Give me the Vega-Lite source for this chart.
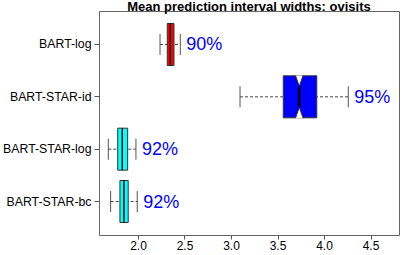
{
  "$schema": "https://vega.github.io/schema/vega-lite/v6.json",
  "autosize": {"type": "none"},
  "width": 300,
  "height": 224,
  "padding": {"left": 99, "top": 11, "right": 8, "bottom": 20},
  "background": "white",
  "title": {
    "text": "Mean prediction interval widths: ovisits",
    "font": "Liberation Sans",
    "fontSize": 13,
    "fontWeight": "bold",
    "color": "black",
    "anchor": "middle",
    "offset": 0,
    "dy": 3
  },
  "config": {
    "view": {"stroke": "#666", "strokeWidth": 1},
    "font": "Liberation Sans"
  },
  "data": {
    "values": [
      {"name": "BART-log", "wlo": 2.237, "q1": 2.315, "med": 2.347, "q3": 2.387, "whi": 2.455, "pct": "90%"},
      {"name": "BART-STAR-id", "wlo": 3.097, "q1": 3.562, "nlo": 3.696, "med": 3.734, "nhi": 3.777, "q3": 3.922, "whi": 4.261, "pct": "95%"},
      {"name": "BART-STAR-log", "wlo": 1.681, "q1": 1.782, "med": 1.831, "q3": 1.889, "whi": 1.978, "pct": "92%"},
      {"name": "BART-STAR-bc", "wlo": 1.706, "q1": 1.806, "med": 1.849, "q3": 1.895, "whi": 1.992, "pct": "92%"}
    ]
  },
  "encoding": {
    "y": {
      "field": "name",
      "type": "nominal",
      "sort": ["BART-log", "BART-STAR-id", "BART-STAR-log", "BART-STAR-bc"],
      "scale": {"paddingInner": 0, "paddingOuter": 0.14},
      "axis": {
        "title": null,
        "domain": false,
        "tickSize": 5,
        "tickColor": "#555",
        "labelFontSize": 12.3,
        "labelColor": "black",
        "labelPadding": 3,
        "labelFont": "Liberation Sans"
      }
    }
  },
  "layer": [
    {
      "mark": {"type": "rule", "color": "#444", "strokeDash": [3, 2], "strokeWidth": 1},
      "encoding": {
        "x": {
          "field": "wlo",
          "type": "quantitative",
          "scale": {"domain": [1.581, 4.806], "nice": false, "zero": false},
          "axis": {
            "title": null,
            "values": [2.0, 2.5, 3.0, 3.5, 4.0, 4.5],
            "format": ".1f",
            "domain": false,
            "grid": false,
            "tickSize": 4,
            "tickColor": "#555",
            "labelFontSize": 12,
            "labelColor": "black",
            "labelPadding": 1,
            "labelFont": "Liberation Sans"
          }
        },
        "x2": {"field": "whi"}
      }
    },
    {
      "mark": {"type": "tick", "color": "#555", "size": 21, "thickness": 1, "opacity": 1},
      "encoding": {"x": {"field": "wlo", "type": "quantitative"}}
    },
    {
      "mark": {"type": "tick", "color": "#555", "size": 21, "thickness": 1, "opacity": 1},
      "encoding": {"x": {"field": "whi", "type": "quantitative"}}
    },
    {
      "mark": {"type": "bar", "size": 42, "stroke": "#333", "strokeWidth": 1, "opacity": 1},
      "encoding": {
        "x": {"field": "q1", "type": "quantitative"},
        "x2": {"field": "q3"},
        "color": {
          "field": "name",
          "type": "nominal",
          "scale": {
            "domain": ["BART-log", "BART-STAR-id", "BART-STAR-log", "BART-STAR-bc"],
            "range": ["#FF0000", "#0000FF", "#00FFFF", "#00FFFF"]
          },
          "legend": null
        }
      }
    },
    {
      "transform": [{"filter": "datum.name == 'BART-STAR-id'"}],
      "mark": {
        "type": "point",
        "shape": "M-0.724,-1.06L0,1L0.724,-1.06",
        "size": 110.25,
        "filled": true,
        "fill": "white",
        "stroke": "#333",
        "strokeWidth": 1,
        "opacity": 1,
        "yOffset": -15.75
      },
      "encoding": {"x": {"field": "med", "type": "quantitative"}}
    },
    {
      "transform": [{"filter": "datum.name == 'BART-STAR-id'"}],
      "mark": {
        "type": "point",
        "shape": "M-0.724,1.06L0,-1L0.724,1.06",
        "size": 110.25,
        "filled": true,
        "fill": "white",
        "stroke": "#333",
        "strokeWidth": 1,
        "opacity": 1,
        "yOffset": 15.75
      },
      "encoding": {"x": {"field": "med", "type": "quantitative"}}
    },
    {
      "transform": [{"filter": "datum.name != 'BART-STAR-id'"}],
      "mark": {"type": "tick", "color": "black", "size": 42, "thickness": 1.5, "opacity": 1},
      "encoding": {"x": {"field": "med", "type": "quantitative"}}
    },
    {
      "transform": [{"filter": "datum.name == 'BART-STAR-id'"}],
      "mark": {"type": "tick", "color": "black", "size": 21, "thickness": 2.5, "opacity": 1},
      "encoding": {"x": {"field": "med", "type": "quantitative"}}
    },
    {
      "mark": {
        "type": "text",
        "align": "left",
        "baseline": "middle",
        "dx": 6,
        "dy": 1,
        "fontSize": 18,
        "color": "#0000FF",
        "font": "Liberation Sans"
      },
      "encoding": {
        "x": {"field": "whi", "type": "quantitative"},
        "text": {"field": "pct"}
      }
    }
  ]
}
